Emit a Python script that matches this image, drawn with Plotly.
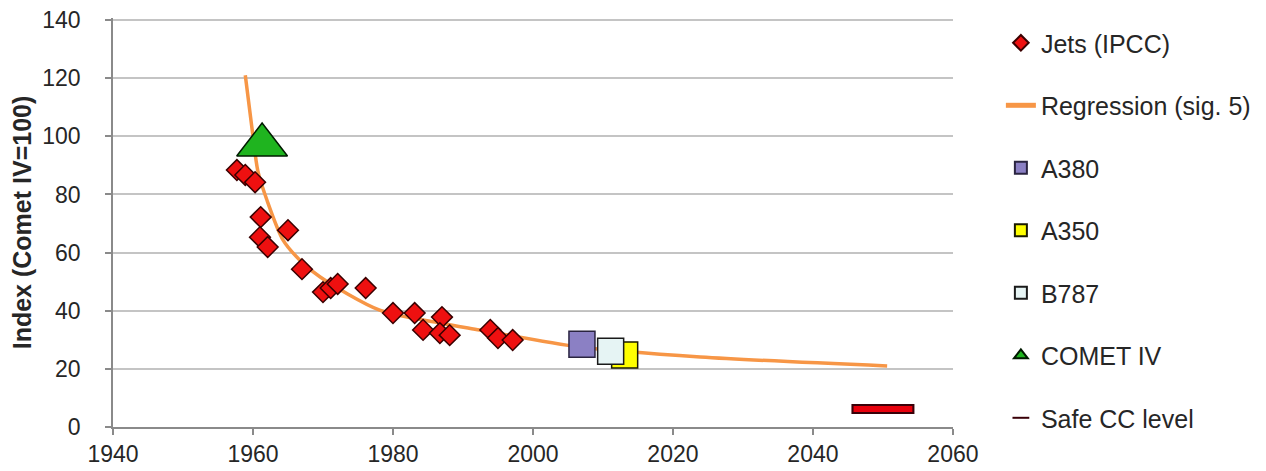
import plotly.graph_objects as go

# ---- data ----
jets_year = [1957.7, 1958.9, 1960.3, 1961.1, 1961.0, 1962.1, 1965.0, 1967.0, 1970.0, 1971.1,
             1972.1, 1976.1, 1980.0, 1983.1, 1984.3, 1987.0, 1986.7, 1988.1, 1993.9, 1995.0, 1997.1]
jets_index = [88.4, 86.7, 84.2, 72.2, 65.3, 61.9, 67.7, 54.3, 46.4, 47.8,
              49.2, 47.8, 39.2, 39.2, 33.4, 37.8, 32.3, 31.6, 33.4, 30.6, 29.9]

reg_year = [1958.9, 1960.0, 1960.7, 1962.0, 1964.3, 1966.7, 1969.6, 1978.1, 1986.7, 1992.4, 2006.7, 2023.9, 2050.6]
reg_index = [121, 100, 88, 78, 64.3, 57.4, 51.6, 40.2, 35.8, 33.4, 27.5, 24.1, 21]

a380_year, a380_index = [2007.0], [28.5]
a350_year, a350_index = [2013.1], [24.8]
b787_year, b787_index = [2011.1], [26.1]
comet_year, comet_index = [1961.3], [97]
safe_year, safe_index = [2050], [6.2]

x_ticks = [1940, 1960, 1980, 2000, 2020, 2040, 2060]
y_ticks = [0, 20, 40, 60, 80, 100, 120, 140]

FONT = "Liberation Sans, Arial, sans-serif"
TXT = "#262626"

fig = go.Figure()

fig.add_trace(go.Scatter(
    x=reg_year, y=reg_index, mode="lines", name="Regression (sig. 5)",
    line=dict(color="#f79646", width=3.5, shape="spline", smoothing=0.8),
    legendgroup="g2", legendrank=2))

fig.add_trace(go.Scatter(
    x=jets_year, y=jets_index, mode="markers", name="Jets (IPCC)",
    marker=dict(symbol="diamond", size=16, color="#ee1010",
                line=dict(color="#3a0000", width=1.5)),
    legendgroup="g1", legendrank=1))

fig.add_trace(go.Scatter(
    x=a380_year, y=a380_index, mode="markers", name="A380",
    marker=dict(symbol="square", size=26, color="#8b80c4",
                line=dict(color="#2a2440", width=1.5)),
    legendgroup="g3", legendrank=3))

fig.add_trace(go.Scatter(
    x=a350_year, y=a350_index, mode="markers", name="A350",
    marker=dict(symbol="square", size=26, color="#ffff00",
                line=dict(color="#1a1a00", width=1.5)),
    legendgroup="g4", legendrank=4))

fig.add_trace(go.Scatter(
    x=b787_year, y=b787_index, mode="markers", name="B787",
    marker=dict(symbol="square", size=26, color="#e6f4f4",
                line=dict(color="#1a1a1a", width=1.5)),
    legendgroup="g5", legendrank=5))

fig.add_trace(go.Scatter(
    x=comet_year, y=comet_index, mode="markers", name="COMET IV",
    marker=dict(symbol="triangle-up", size=44, color="#1fb41f",
                line=dict(color="#001a00", width=1.5)),
    legendgroup="g6", legendrank=6))

fig.add_trace(go.Scatter(
    x=safe_year, y=safe_index, mode="markers", name="Safe CC level",
    marker=dict(symbol="line-ew", size=45, color="#3a0008",
                line=dict(color="#3a0008", width=10)),
    legendgroup="g7", legendrank=7))
fig.add_trace(go.Scatter(
    x=safe_year, y=safe_index, mode="markers", name="Safe CC level",
    marker=dict(symbol="line-ew", size=42, color="#e8000c",
                line=dict(color="#e8000c", width=6)),
    legendgroup="g7", showlegend=False))

fig.update_layout(
    width=1258, height=463,
    margin=dict(l=105, r=313, t=10, b=44, autoexpand=False),
    paper_bgcolor="white", plot_bgcolor="white",
    font=dict(family=FONT, size=21, color=TXT),
    showlegend=True,
    legend=dict(x=1.057, xanchor="left", y=0.995, yanchor="top",
                font=dict(size=25, color=TXT, family=FONT),
                itemsizing="constant", tracegroupgap=27, maxheight=900,
                bgcolor="rgba(0,0,0,0)"),
    xaxis=dict(range=[1940, 2060.01], tickvals=x_ticks, showgrid=False,
               showline=True, linecolor="#8a8a8a", linewidth=1.5,
               ticks="outside", ticklen=6, tickcolor="#8a8a8a", tickwidth=1.5,
               tickfont=dict(size=23, color=TXT), zeroline=False, automargin=False,
               ticklabeloverflow="allow"),
    yaxis=dict(range=[0, 140.7], tickvals=y_ticks, showgrid=True,
               gridcolor="#c4c4c4", gridwidth=1.5,
               showline=True, linecolor="#8a8a8a", linewidth=1.5,
               ticks="outside", ticklen=6, tickcolor="#8a8a8a", tickwidth=1.5,
               tickfont=dict(size=23, color=TXT), ticklabelstandoff=20,
               zeroline=False, automargin=False, ticklabeloverflow="allow",
               title=dict(text="<b>Index (Comet IV=100)</b>", standoff=5,
                          font=dict(size=25, color=TXT))),
)

fig.write_html("out.html")
